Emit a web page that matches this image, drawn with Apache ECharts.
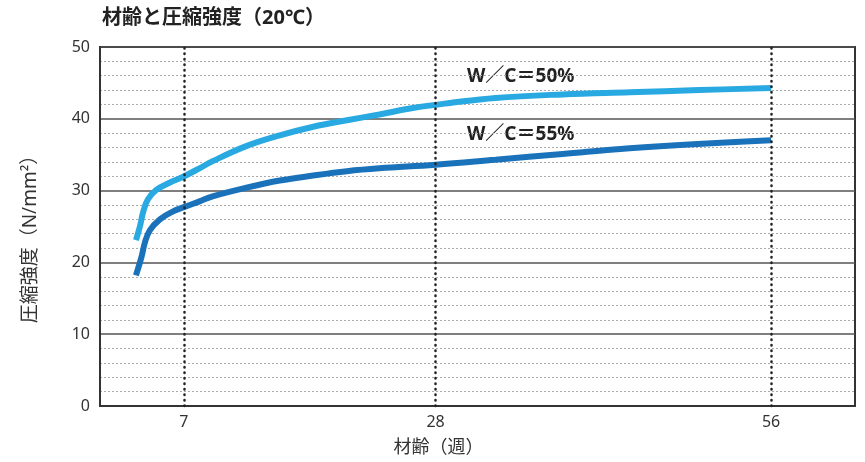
<!DOCTYPE html>
<html><head><meta charset="utf-8">
<script src="https://cdn.jsdelivr.net/npm/echarts@6/dist/echarts.min.js"></script>
<style>html,body{margin:0;padding:0;background:#fff}#c{width:865px;height:462px}</style>
</head><body><div id="c"></div>
<script>
const titleText = '材齢と圧縮強度（20℃）';
const xName = '材齢（週）';
const yName = '圧縮強度（N/mm²）';
const xTicks = [7, 28, 56];
const days50 = [3, 3.33, 3.6, 4.0, 4.7, 5.8, 6.9, 8.3, 9.4, 12.2, 15, 17.8, 20.6, 23.3, 26.1, 29.2, 33, 38.6, 44.2, 50, 56];
const vals50 = [23.1, 25, 27, 28.8, 30.1, 31.1, 31.9, 33.1, 34.1, 36.2, 37.7, 38.9, 39.8, 40.6, 41.5, 42.2, 42.9, 43.4, 43.7, 44, 44.3];
const days55 = [3, 3.47, 3.75, 4.17, 5, 6.1, 7, 8.3, 9.4, 12.2, 15, 17.8, 20.6, 23.3, 28, 33, 38.6, 44.2, 56];
const vals55 = [18.2, 20.8, 22.8, 24.5, 26, 27.1, 27.7, 28.5, 29.2, 30.4, 31.4, 32.1, 32.7, 33.1, 33.6, 34.3, 35.1, 35.9, 37];
const label50 = 'W／C＝50%';
const label55 = 'W／C＝55%';

const font = '"Noto Sans", "Noto Sans CJK JP", sans-serif';
const chart = echarts.init(document.getElementById('c'));
chart.setOption({
  animation: false,
  textStyle: {fontFamily: font},
  title: {text: titleText, left: 97, top: 3, textStyle: {fontSize: 20, fontWeight: 'bold', color: '#222', fontFamily: font}},
  grid: {left: 100, right: 10, top: 47, bottom: 56, show: true, borderColor: '#333', borderWidth: 2},
  xAxis: {
    type: 'value', min: 0, max: 63,
    axisLine: {show: true, lineStyle: {color: '#333', width: 2}},
    axisTick: {show: false},
    splitLine: {show: false},
    axisLabel: {customValues: xTicks, color: '#333', fontSize: 16, margin: 8, fontFamily: font},
    name: xName, nameLocation: 'middle', nameGap: 33,
    nameTextStyle: {fontSize: 18, color: '#333', fontFamily: font, padding: [0, 78, 0, 0]}
  },
  yAxis: {
    type: 'value', min: 0, max: 50, interval: 10,
    axisLine: {show: true, lineStyle: {color: '#333', width: 2}},
    axisTick: {show: false},
    minorTick: {show: false, splitNumber: 5},
    splitLine: {show: true, lineStyle: {color: '#555', width: 1.5}},
    minorSplitLine: {show: true, lineStyle: {color: '#aaa', width: 1, type: [2, 2]}},
    axisLabel: {color: '#333', fontSize: 16, margin: 10, fontFamily: font},
    name: yName, nameLocation: 'middle', nameGap: 60,
    nameTextStyle: {fontSize: 19, color: '#333', fontFamily: font, padding: [0, 16, 0, 0]}
  },
  series: [
    {
      type: 'line', smooth: 0.4, showSymbol: false,
      data: days50.map((d, i) => [d, vals50[i]]),
      lineStyle: {color: '#29a9e1', width: 6},
      markLine: {
        silent: true, symbol: 'none', label: {show: false},
        lineStyle: {color: '#222', width: 2.5, type: [0.5, 5], cap: 'round'},
        data: xTicks.map(v => ({xAxis: v}))
      },
      z: 3
    },
    {
      type: 'line', smooth: 0.4, showSymbol: false,
      data: days55.map((d, i) => [d, vals55[i]]),
      lineStyle: {color: '#1a73ba', width: 6},
      z: 3
    }
  ],
  graphic: [
    {type: 'text', left: 467, top: 67, style: {text: label50, fontSize: 19, fontWeight: 'bold', fill: '#222', fontFamily: font}},
    {type: 'text', left: 467, top: 125, style: {text: label55, fontSize: 19, fontWeight: 'bold', fill: '#222', fontFamily: font}}
  ]
});
</script></body></html>
